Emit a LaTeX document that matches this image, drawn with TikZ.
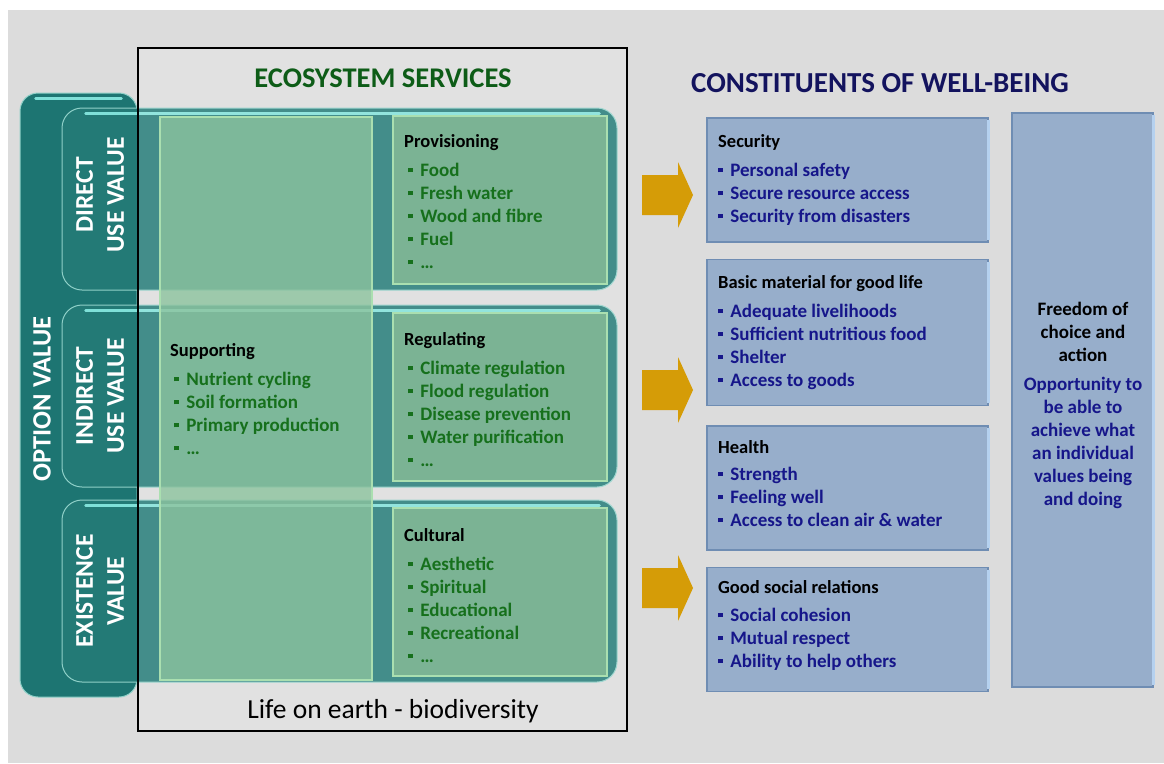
\documentclass[tikz,border=0pt]{standalone}
\usepackage{fontspec}
\setmainfont{Carlito}
\usetikzlibrary{positioning}

\definecolor{bggray}{HTML}{DCDCDC}
\definecolor{optteal}{HTML}{1D7572}
\definecolor{bandteal}{HTML}{237A76}
\definecolor{rimteal}{HTML}{8FD0C8}
\definecolor{glossteal}{HTML}{7FE0D8}
\definecolor{svcgreen}{HTML}{7BB394}
\definecolor{svcrim}{HTML}{AADFB0}
\definecolor{supgreen}{HTML}{8CC39E}
\definecolor{itemgreen}{HTML}{16701C}
\definecolor{titlegreen}{HTML}{0D5C17}
\definecolor{titlenavy}{HTML}{13135E}
\definecolor{boxblue}{HTML}{97AECB}
\definecolor{boxedge}{HTML}{6F8DB3}
\definecolor{boxlight}{HTML}{B5D1EF}
\definecolor{itemnavy}{HTML}{16168A}
\definecolor{arrowgold}{HTML}{D59C07}

\newcommand{\sq}{\raisebox{0.2em}{\rule{0.24em}{0.24em}}\hspace{0.4em}}
\newcommand{\hdrfont}{\color{black}\fontsize{18.5}{23}\selectfont}

\begin{document}
\begin{tikzpicture}[x=1pt,y=-1pt,node distance=16pt]
  \tikzstyle{optbar}=[fill=optteal, draw=rimteal, line width=1pt, rounded corners=18pt]
  \tikzstyle{band}=[fill=bandteal, draw=rimteal, line width=1pt, rounded corners=20pt,
                    minimum width=555pt, minimum height=182pt]
  \tikzstyle{gloss}=[glossteal, line width=2.5pt, line cap=round]
  \tikzstyle{ecoframe}=[fill=white, fill opacity=0.15, draw=black, line width=1.5pt,
                        minimum width=489pt, minimum height=683pt]
  \tikzstyle{supcol}=[fill=supgreen, fill opacity=0.8, draw=svcrim, line width=2.5pt,
                      minimum width=212pt, minimum height=563pt]
  \tikzstyle{svcbox}=[fill=svcgreen, draw=svcrim, line width=2pt,
                      minimum width=214pt, minimum height=168pt]
  \tikzstyle{wellbox}=[fill=boxblue, draw=boxedge, line width=1.5pt, minimum width=281pt]
  \tikzstyle{vlabel}=[rotate=90, align=center, text=white,
                      font=\fontsize{25.5}{31}\selectfont\bfseries]
  \tikzstyle{svctext}=[anchor=north west, inner sep=0pt, align=left, text=itemgreen,
                       font=\fontsize{19}{23}\selectfont\bfseries]
  \tikzstyle{welltext}=[svctext, text=itemnavy]

  \useasboundingbox (0,0) rectangle (1164,763);
  \fill[white] (0,0) rectangle (1164,763);
  \fill[bggray] (8,10) rectangle (1164,763);

  % value bands
  \node[optbar, minimum width=117pt, minimum height=604pt] (opt) at (78.5,395) {};
  \draw[gloss] ([xshift=16pt,yshift=-6pt]opt.north west) -- ([xshift=-16pt,yshift=-6pt]opt.north east);

  \node[band] (dir) at (339.5,199) {};
  \node[band] (ind) at (339.5,396) {};
  \node[band] (exi) at (339.5,591) {};
  \foreach \n in {dir,ind,exi}
    \draw[gloss] ([xshift=24pt,yshift=-6pt]\n.north west) -- ([xshift=-18pt,yshift=-6pt]\n.north east);

  % ecosystem services
  \node[ecoframe] (eco) at (382.5,389.5) {};
  \node[supcol] (sup) at (266,398.5) {};
  \node[svcbox] (prov) at (500,200) {};
  \node[svcbox] (regu) at (500,397) {};
  \node[svcbox] (cult) at (500,592) {};

  \node[font=\fontsize{28.5}{30}\selectfont\bfseries, text=titlegreen] (ecot) at (383,78) {ECOSYSTEM SERVICES};
  \node[font=\fontsize{27.5}{30}\selectfont] (life) at (393,711) {Life on earth - biodiversity};

  \node[vlabel, font=\fontsize{26.5}{31}\selectfont\bfseries] (optl) at (42,399) {OPTION VALUE};
  \node[vlabel] (dirl) at (100,195) {DIRECT\\USE VALUE};
  \node[vlabel] (indl) at (100,396) {INDIRECT\\USE VALUE};
  \node[vlabel] (exil) at (100,591) {EXISTENCE\\VALUE};

  \node[svctext] (provt) at (404,134) {{\hdrfont Provisioning}\\[6pt]
    \hspace*{4pt}\sq Food\\ \hspace*{4pt}\sq Fresh water\\ \hspace*{4pt}\sq Wood and fibre\\
    \hspace*{4pt}\sq Fuel\\ \hspace*{4pt}\sq \dots};
  \node[svctext] (regut) at (404,332) {{\hdrfont Regulating}\\[6pt]
    \hspace*{4pt}\sq Climate regulation\\ \hspace*{4pt}\sq Flood regulation\\
    \hspace*{4pt}\sq Disease prevention\\ \hspace*{4pt}\sq Water purification\\ \hspace*{4pt}\sq \dots};
  \node[svctext] (cultt) at (404,528) {{\hdrfont Cultural}\\[6pt]
    \hspace*{4pt}\sq Aesthetic\\ \hspace*{4pt}\sq Spiritual\\ \hspace*{4pt}\sq Educational\\
    \hspace*{4pt}\sq Recreational\\ \hspace*{4pt}\sq \dots};
  \node[svctext] (supt) at (170,343) {{\hdrfont Supporting}\\[6pt]
    \hspace*{4pt}\sq Nutrient cycling\\ \hspace*{4pt}\sq Soil formation\\
    \hspace*{4pt}\sq Primary production\\ \hspace*{4pt}\sq \dots};

  % arrows
  \foreach \ay in {195,390,588}
    \fill[arrowgold] (642,\ay-20) -- (678,\ay-20) -- (678,\ay-33) -- (693,\ay)
                     -- (678,\ay+33) -- (678,\ay+20) -- (642,\ay+20) -- cycle;

  % constituents of well-being
  \node[font=\fontsize{29}{30}\selectfont\bfseries, text=titlenavy] (wbt) at (880,83) {CONSTITUENTS OF WELL-BEING};

  \node[wellbox, minimum height=124pt] (sec) at (847.5,180) {};
  \node[wellbox, minimum height=146pt] (bas) [below=of sec] {};
  \node[wellbox, minimum height=124pt] (hea) [below=19pt of bas] {};
  \node[wellbox, minimum height=124pt] (soc) [below=of hea] {};
  \node[wellbox, minimum width=141pt, minimum height=574pt] (free) at (1082.5,400) {};
  \foreach \n in {sec,bas,hea,soc,free}
    \draw[boxlight, line width=3pt] ([yshift=-3pt]\n.north east) -- ([yshift=3pt]\n.south east);

  \node[welltext] (sect) at (718,134) {{\hdrfont Security}\\[6pt]
    \sq Personal safety\\ \sq Secure resource access\\ \sq Security from disasters};
  \node[welltext] (bast) at (718,275) {{\hdrfont Basic material for good life}\\[6pt]
    \sq Adequate livelihoods\\ \sq Sufficient nutritious food\\ \sq Shelter\\ \sq Access to goods};
  \node[welltext] (heat) at (718,440) {{\hdrfont Health}\\[4pt]
    \sq Strength\\ \sq Feeling well\\ \sq Access to clean air \& water};
  \node[welltext] (soct) at (718,580) {{\hdrfont Good social relations}\\[5pt]
    \sq Social cohesion\\ \sq Mutual respect\\ \sq Ability to help others};
  \node[welltext, anchor=north, align=center] (freet) at (1083,302)
    {\textcolor{black}{Freedom of}\\ \textcolor{black}{choice and}\\ \textcolor{black}{action}\\[6pt]
     Opportunity to\\be able to\\achieve what\\an individual\\values being\\and doing};
\end{tikzpicture}
\end{document}
